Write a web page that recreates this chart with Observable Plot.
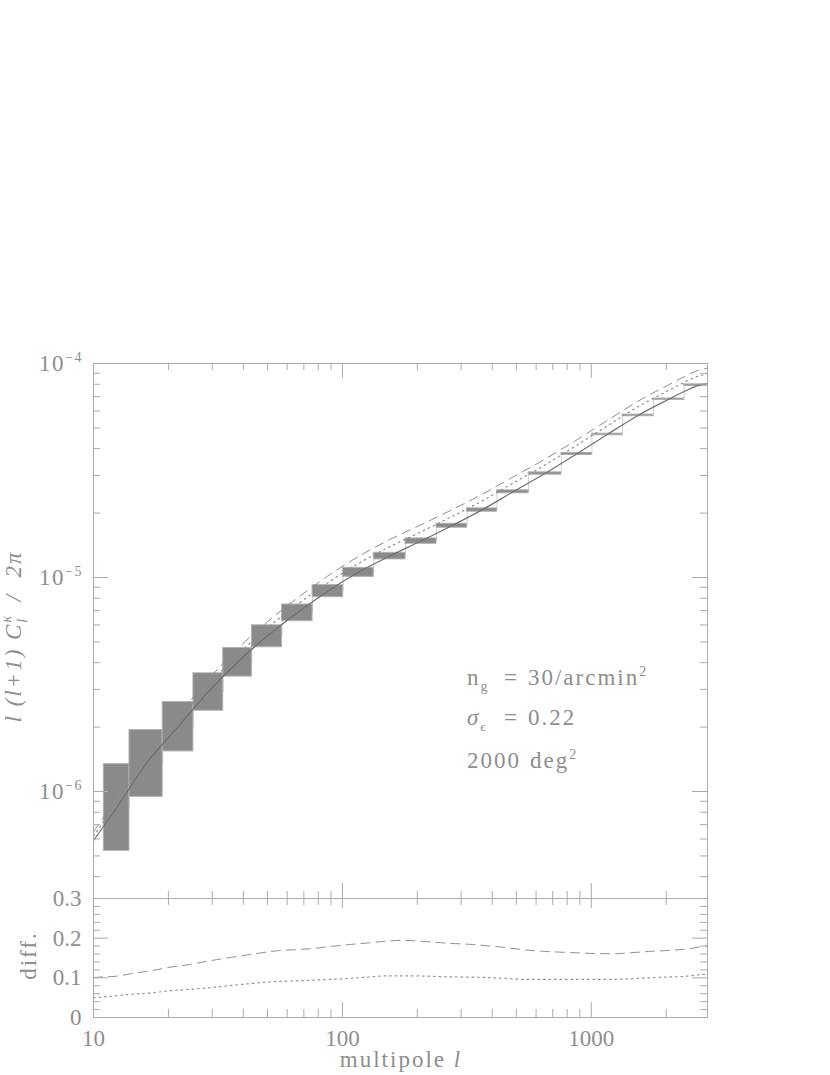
<!DOCTYPE html>
<html><head><meta charset="utf-8">
<script src="https://cdn.jsdelivr.net/npm/d3@7"></script>
<script src="https://cdn.jsdelivr.net/npm/@observablehq/plot@0.6"></script>
<style>
body{margin:0;background:#fff;}
#wrap{position:relative;width:830px;height:1075px;overflow:hidden;}
#topPanel,#botPanel{position:absolute;left:0;}
#topPanel{top:0px} #botPanel{top:878px}
svg{overflow:visible}
</style></head><body><div id="wrap"><div id="topPanel"></div><div id="botPanel"></div></div>
<script>
// ---------- data ----------
const binEdges = [11.0, 13.95, 18.97, 25.2, 33.2, 43.3, 57.2, 75.9, 100.7, 133.7, 179.3, 238.8, 317, 418, 560, 758, 1006, 1335, 1779, 2362, 3150];
const boxLow  = [5.28e-7, 9.44e-7, 1.539e-6, 2.385e-6, 3.443e-6, 4.72e-6, 6.25e-6, 8.09e-6, 1.007e-5, 1.215e-5, 1.437e-5, 1.708e-5, 2.029e-5, 2.474e-5, 3.023e-5, 3.738e-5, 4.62e-5, 5.67e-5, 6.76e-5, 7.86e-5];
const boxHigh = [1.342e-6, 1.936e-6, 2.618e-6, 3.567e-6, 4.684e-6, 5.98e-6, 7.48e-6, 9.21e-6, 1.110e-5, 1.304e-5, 1.523e-5, 1.783e-5, 2.104e-5, 2.555e-5, 3.10e-5, 3.82e-5, 4.70e-5, 5.77e-5, 6.86e-5, 7.99e-5];

const ell        = [10, 12.4, 16.3, 21.9, 28.9, 37.9, 49.8, 65.9, 87.4, 116, 155, 207, 275, 364, 484, 651, 873, 1159, 1541, 2050, 2362, 2700, 2930];
const solidVals  = [5.9e-7, 8.42e-7, 1.35e-6, 2.01e-6, 2.92e-6, 4.02e-6, 5.31e-6, 6.84e-6, 8.63e-6, 1.057e-5, 1.26e-5, 1.48e-5, 1.745e-5, 2.07e-5, 2.51e-5, 3.06e-5, 3.78e-5, 4.66e-5, 5.72e-5, 6.81e-5, 7.4e-5, 7.9e-5, 8.05e-5];
const dashedVals = [6.49e-7, 9.30e-7, 1.507e-6, 2.271e-6, 3.335e-6, 4.639e-6, 6.186e-6, 8.01e-6, 1.0166e-5, 1.2536e-5, 1.503e-5, 1.764e-5, 2.071e-5, 2.447e-5, 2.947e-5, 3.571e-5, 4.392e-5, 5.41e-5, 6.664e-5, 7.961e-5, 8.673e-5, 9.306e-5, 9.499e-5];
const dottedVals = [6.195e-7, 8.88e-7, 1.434e-6, 2.149e-6, 3.139e-6, 4.354e-6, 5.783e-6, 7.476e-6, 9.458e-6, 1.1627e-5, 1.392e-5, 1.634e-5, 1.925e-5, 2.279e-5, 2.756e-5, 3.354e-5, 4.143e-5, 5.107e-5, 6.281e-5, 7.498e-5, 8.17e-5, 8.745e-5, 8.919e-5];

const diffDashEll = [10, 10.5, 12.1, 14.6, 17.2, 20.3, 24.3, 28.7, 33.8, 39.8, 46.9, 55.3, 65.2, 76.9, 90.6, 108.8, 126, 151, 178, 218, 271, 326, 377, 444, 533, 640, 769, 906, 1068, 1259, 1457, 1749, 2101, 2430, 2814, 2930];
const diffDashVal = [0.100, 0.1018, 0.1035, 0.1118, 0.1185, 0.1268, 0.1335, 0.1418, 0.1494, 0.156, 0.1627, 0.1686, 0.171, 0.1744, 0.1794, 0.1844, 0.1877, 0.1927, 0.1944, 0.1911, 0.1869, 0.1844, 0.1811, 0.1769, 0.171, 0.1669, 0.1644, 0.1627, 0.161, 0.161, 0.1635, 0.1669, 0.1694, 0.1727, 0.1794, 0.181];
const diffDotEll = [10, 11.7, 14.1, 16.9, 20.3, 24.3, 29.2, 35.0, 42.1, 50.5, 60.6, 72.8, 87.3, 104.9, 126, 151, 181, 218, 262, 314, 377, 452, 543, 652, 783, 940, 1128, 1354, 1626, 1953, 2343, 2814, 2930];
const diffDotVal = [0.050, 0.0534, 0.0584, 0.0617, 0.0676, 0.0709, 0.0751, 0.0801, 0.0851, 0.0893, 0.0918, 0.0934, 0.0959, 0.0984, 0.1018, 0.1051, 0.1051, 0.1043, 0.1026, 0.1018, 0.101, 0.0984, 0.0959, 0.0959, 0.0959, 0.0959, 0.0959, 0.0968, 0.0993, 0.1018, 0.1035, 0.1085, 0.109];

const xMajorTicks = [10, 100, 1000];
const xMinorTicks = [20, 30, 40, 50, 60, 70, 80, 90, 200, 300, 400, 500, 600, 700, 800, 900, 2000];
const yTopMajor = [1e-6, 1e-5, 1e-4];
const yTopMinor = [4e-7, 5e-7, 6e-7, 7e-7, 8e-7, 9e-7, 2e-6, 3e-6, 4e-6, 5e-6, 6e-6, 7e-6, 8e-6, 9e-6, 2e-5, 3e-5, 4e-5, 5e-5, 6e-5, 7e-5, 8e-5, 9e-5];
const yTopExp = ["−6", "−5", "−4"];
const yBotMajor = [0, 0.1, 0.2, 0.3];
const yBotMinor = [0.02, 0.04, 0.06, 0.08, 0.12, 0.14, 0.16, 0.18, 0.22, 0.24, 0.26, 0.28];
const yBotLabels = ["0", "0.1", "0.2", "0.3"];
const xLabels = ["10", "100", "1000"];
const annotEll = 318;
const annotY = [3.13e-6, 2.03e-6, 1.28e-6];

// ---------- styling ----------
const FONT = "'Liberation Serif', 'DejaVu Serif', serif";
const TXT = "#8e8e8e", AX = "#ababab";
const W = 830, ML = 93, MR = 123, FW = W - ML - MR;

const boxes = boxLow.map((lo, i) => ({x1: binEdges[i], x2: binEdges[i + 1], lo, hi: boxHigh[i], mid: Math.sqrt(lo * boxHigh[i])}));
const steps = boxes.map(b => ({x: b.x1, y: b.mid})).concat([{x: binEdges[binEdges.length - 1], y: boxes[boxes.length - 1].mid}]);
const curve = (xs, ys) => xs.map((x, i) => ({x, y: ys[i]}));

// ---------- top panel ----------
const H1 = 898, MT1 = 363, FH1 = H1 - MT1;
const topPlot = Plot.plot({
  width: W, height: H1, marginTop: MT1, marginBottom: 0, marginLeft: ML, marginRight: MR,
  x: {type: "log", domain: [10, 2930], axis: null},
  y: {type: "log", domain: [Math.pow(10, -6.5), 1e-4], axis: null},
  style: {fontFamily: FONT, overflow: "visible", background: "transparent"},
  marks: [
    Plot.line(steps, {x: "x", y: "y", curve: "step-after", stroke: "#c4c4c4", strokeWidth: 0.8, clip: true}),
    Plot.rect(boxes, {x1: "x1", x2: "x2", y1: "lo", y2: "hi", fill: "#8a8a8a", stroke: "#b2b2b2", strokeWidth: 1, clip: true}),
    Plot.line(curve(ell, dashedVals), {x: "x", y: "y", curve: "monotone-x", stroke: "#8f8f8f", strokeWidth: 1, strokeDasharray: "9,6", clip: true}),
    Plot.line(curve(ell, dottedVals), {x: "x", y: "y", curve: "monotone-x", stroke: "#8f8f8f", strokeWidth: 1.2, strokeDasharray: "1.5,4", clip: true}),
    Plot.line(curve(ell, solidVals), {x: "x", y: "y", curve: "monotone-x", stroke: "#707070", strokeWidth: 1.2, clip: true}),
    Plot.tickX(xMajorTicks, {x: d => d, insetTop: FH1 - 15, stroke: AX}),
    Plot.tickX(xMinorTicks, {x: d => d, insetTop: FH1 - 7, stroke: AX}),
    Plot.tickX(xMajorTicks, {x: d => d, insetBottom: FH1 - 15, stroke: AX}),
    Plot.tickX(xMinorTicks, {x: d => d, insetBottom: FH1 - 7, stroke: AX}),
    Plot.tickY(yTopMajor, {y: d => d, insetRight: FW - 15, stroke: AX}),
    Plot.tickY(yTopMinor, {y: d => d, insetRight: FW - 7, stroke: AX}),
    Plot.tickY(yTopMajor, {y: d => d, insetLeft: FW - 15, stroke: AX}),
    Plot.tickY(yTopMinor, {y: d => d, insetLeft: FW - 7, stroke: AX}),
    Plot.frame({stroke: AX})
  ]
});
document.getElementById("topPanel").appendChild(topPlot);
{
  const svg = d3.select(topPlot);
  const xs = topPlot.scale("x"), ys = topPlot.scale("y");
  const g = svg.append("g").attr("font-family", FONT).attr("fill", TXT).attr("letter-spacing", "1.5px").attr("text-anchor", "start");
  yTopMajor.forEach((v, i) => {
    const t = g.append("text").attr("x", 83).attr("y", ys.apply(v) + 7.5).attr("text-anchor", "end").attr("font-size", 23);
    t.append("tspan").text("10");
    t.append("tspan").attr("font-size", 14).attr("dy", -9).text(yTopExp[i]);
  });
  const tt = g.append("text").attr("transform", `translate(21,${(MT1 + H1) / 2 + 6}) rotate(-90)`)
    .attr("text-anchor", "middle").attr("font-size", 23).attr("font-style", "italic").attr("letter-spacing", "2px");
  tt.append("tspan").text("l (l+1) C");
  tt.append("tspan").attr("font-size", 14).attr("dy", -10).text("κ");
  tt.append("tspan").attr("font-size", 14).attr("dx", -9).attr("dy", 16).text("l");
  tt.append("tspan").attr("dy", -6).text("  /  2π");
  const ax = xs.apply(annotEll);
  const a1 = g.append("text").attr("x", ax).attr("y", ys.apply(annotY[0])).attr("font-size", 23).attr("letter-spacing", "2px");
  a1.append("tspan").text("n");
  a1.append("tspan").attr("font-size", 14).attr("dy", 6).text("g");
  a1.append("tspan").attr("x", ax + 37).attr("dy", -6).text("=");
  a1.append("tspan").attr("x", ax + 61).text("30/arcmin");
  a1.append("tspan").attr("font-size", 14).attr("dy", -9).text("2");
  const a2 = g.append("text").attr("x", ax).attr("y", ys.apply(annotY[1])).attr("font-size", 23).attr("letter-spacing", "2px");
  a2.append("tspan").attr("font-style", "italic").text("σ");
  a2.append("tspan").attr("font-size", 13).attr("dy", 6).text("ϵ");
  a2.append("tspan").attr("x", ax + 37).attr("dy", -6).text("=");
  a2.append("tspan").attr("x", ax + 61).text("0.22");
  const a3 = g.append("text").attr("x", ax).attr("y", ys.apply(annotY[2])).attr("font-size", 23).attr("letter-spacing", "2px");
  a3.append("tspan").text("2000");
  a3.append("tspan").attr("x", ax + 63).text("deg");
  a3.append("tspan").attr("font-size", 14).attr("dy", -9).text("2");
}

// ---------- bottom panel ----------
const H2 = 197, MT2 = 20, MB2 = 58, FH2 = H2 - MT2 - MB2;
const botPlot = Plot.plot({
  width: W, height: H2, marginTop: MT2, marginBottom: MB2, marginLeft: ML, marginRight: MR,
  x: {type: "log", domain: [10, 2930], axis: null},
  y: {type: "linear", domain: [0, 0.3], axis: null},
  style: {fontFamily: FONT, overflow: "visible", background: "transparent"},
  marks: [
    Plot.line(curve(diffDashEll, diffDashVal), {x: "x", y: "y", curve: "monotone-x", stroke: "#8f8f8f", strokeWidth: 1, strokeDasharray: "9,6", clip: true}),
    Plot.line(curve(diffDotEll, diffDotVal), {x: "x", y: "y", curve: "monotone-x", stroke: "#8f8f8f", strokeWidth: 1.2, strokeDasharray: "1.5,4", clip: true}),
    Plot.tickX(xMajorTicks, {x: d => d, insetTop: FH2 - 15, stroke: AX}),
    Plot.tickX(xMinorTicks, {x: d => d, insetTop: FH2 - 8, stroke: AX}),
    Plot.tickX(xMajorTicks, {x: d => d, insetBottom: FH2 - 10, stroke: AX}),
    Plot.tickX(xMinorTicks, {x: d => d, insetBottom: FH2 - 7, stroke: AX}),
    Plot.tickY(yBotMajor, {y: d => d, insetRight: FW - 15, stroke: AX}),
    Plot.tickY(yBotMinor, {y: d => d, insetRight: FW - 7, stroke: AX}),
    Plot.tickY(yBotMajor, {y: d => d, insetLeft: FW - 15, stroke: AX}),
    Plot.tickY(yBotMinor, {y: d => d, insetLeft: FW - 7, stroke: AX}),
    Plot.frame({stroke: AX}),
    Plot.text(xMajorTicks, {x: d => d, frameAnchor: "bottom", dy: 21, text: (d, i) => xLabels[i], fontSize: 23, fill: TXT, lineAnchor: "middle"}),
    Plot.text(yBotMajor, {y: d => d, frameAnchor: "left", dx: -12, textAnchor: "end", text: (d, i) => yBotLabels[i], fontSize: 23, fill: TXT, lineAnchor: "middle"})
  ]
});
document.getElementById("botPanel").appendChild(botPlot);
{
  const svg = d3.select(botPlot);
  const g = svg.append("g").attr("font-family", FONT).attr("fill", TXT).attr("font-size", 23).attr("letter-spacing", "2px");
  const xl = g.append("text").attr("x", ML + FW / 2 + 1).attr("y", MT2 + FH2 + 50).attr("text-anchor", "middle");
  xl.append("tspan").text("multipole ");
  xl.append("tspan").attr("font-style", "italic").text("l");
  g.append("text").attr("transform", `translate(36,${MT2 + FH2 / 2 - 2}) rotate(-90)`).attr("text-anchor", "middle").text("diff.");
}
</script></body></html>
